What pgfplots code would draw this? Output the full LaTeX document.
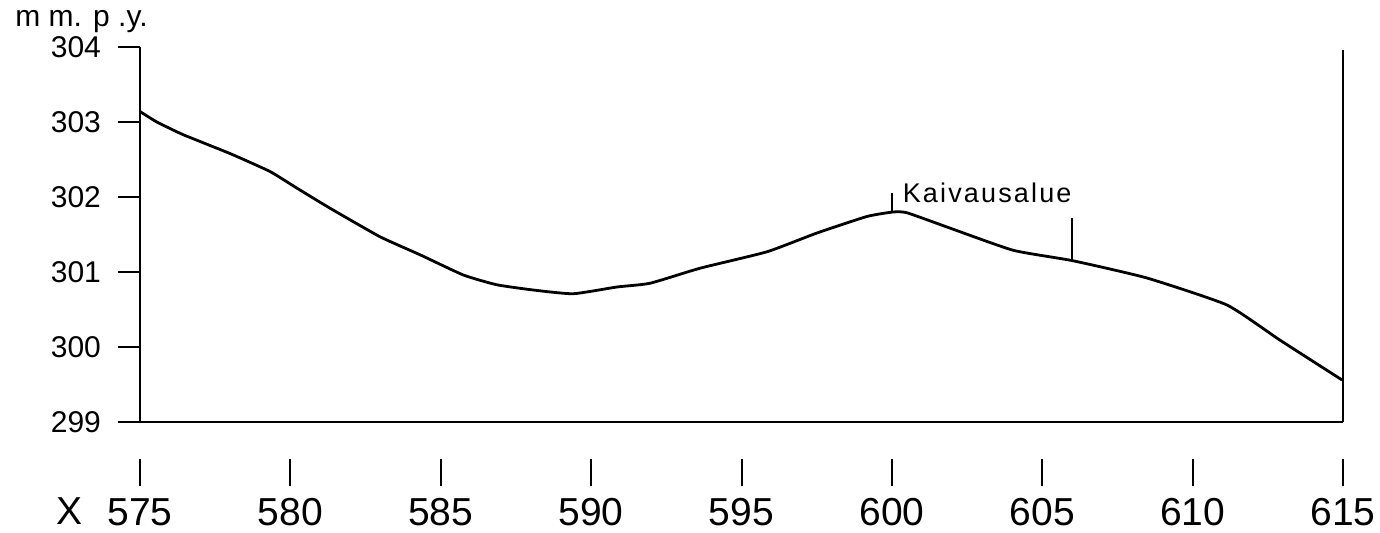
\documentclass[border=0pt]{standalone}
\usepackage{fontspec}
\setmainfont{Liberation Sans}
\usepackage{pgfplots}
\pgfplotsset{compat=1.18}

\begin{document}
\begin{tikzpicture}
% page = 1380 x 533 px at 0.5pt per px, axis origin at px (140,422)
\useasboundingbox (-70pt,-55.5pt) rectangle (620pt,211pt);
\begin{axis}[
    at={(0,0)}, anchor=south west,
    scale only axis, width=601.5pt, height=187.5pt,
    xmin=575, xmax=615, ymin=299, ymax=304,
    axis x line*=bottom, axis y line*=left,
    axis line style={line width=1pt, black},
    xtick={575,580,...,615}, ytick={299,...,304},
    tick align=outside, major tick length=11pt,
    ytick style={line width=1pt, black},
    xtick style={draw=none},
    /pgf/number format/assume math mode=true,
    /pgf/number format/1000 sep={},
    yticklabel style={font=\fontsize{15}{15}\selectfont, xshift=-5pt},
    xticklabel style={font=\fontsize{19.5}{19.5}\selectfont, align=center,
        anchor=north, inner sep=0pt, yshift=-7.5pt},
    xticklabel={\rule{1pt}{13.5pt}\\\pgfmathprintnumber{\tick}},
    clip=false,
]
% surface level along the section
\addplot[line width=1.4pt, smooth, tension=0.3] coordinates {
    (575.00,303.14) (575.56,303.00) (576.44,302.83) (577.99,302.58)
    (579.32,302.34) (580.21,302.12) (581.32,301.85) (582.98,301.47)
    (584.31,301.23) (585.75,300.96) (586.86,300.83) (588.07,300.76)
    (589.40,300.71) (590.86,300.80) (591.96,300.85) (593.62,301.05)
    (595.85,301.27) (597.51,301.52) (599.17,301.74) (600.04,301.80)
    (600.50,301.79) (601.83,301.60) (604.03,301.29) (606.02,301.15)
    (608.48,300.92) (611.14,300.56) (612.91,300.09) (614.97,299.56)
};
% right border line
\addplot[line width=1pt] coordinates {(615,299) (615,303.96)};
% limits of the excavation area
\addplot[line width=1pt] coordinates {(600,301.80) (600,302.05)};
\addplot[line width=1pt] coordinates {(606,301.15) (606,301.72)};
\node[anchor=west, inner sep=0pt, font=\fontsize{13.5}{13.5}\selectfont]
    at (axis cs:600.35,302.05) {\addfontfeature{LetterSpace=8}Kaivausalue};
\end{axis}
\node[anchor=base west, inner sep=0pt, font=\fontsize{15}{15}\selectfont]
    at (-62.5pt,197.5pt) {m m. p .y.};
\node[anchor=base, inner sep=0pt, font=\fontsize{19.5}{19.5}\selectfont]
    at (-35pt,-51.5pt) {X};
\end{tikzpicture}
\end{document}
